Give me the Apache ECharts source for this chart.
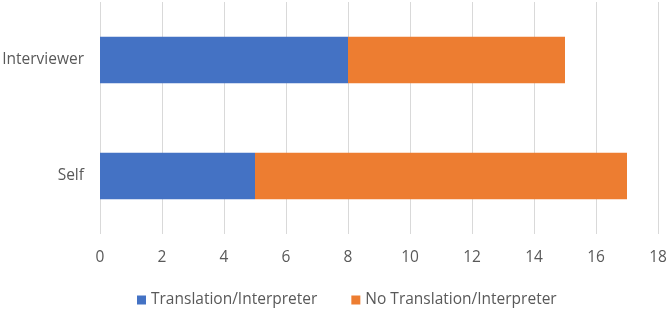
<!DOCTYPE html>
<html>
<head>
<meta charset="utf-8">
<script src="https://cdn.jsdelivr.net/npm/echarts@6/dist/echarts.min.js"></script>
<style>
html,body{margin:0;padding:0;background:#fff;}
#main{width:669px;height:309px;}
</style>
</head>
<body>
<div id="main"></div>
<script>
// categories bottom to top
var categories = ['Self', 'Interviewer'];
var translation = [5, 8];
var noTranslation = [12, 7];
var xTicks = [0, 18, 2]; // min, max, interval

var chart = echarts.init(document.getElementById('main'));

var option = {
    animation: false,
    textStyle: { fontFamily: 'Open Sans' },
    grid: { left: 100, right: 11, top: 2, bottom: 75, outerBoundsMode: 'none' },
    legend: {
        top: 287,
        left: 132,
        itemWidth: 9,
        itemHeight: 9,
        itemGap: 34,
        icon: 'rect',
        textStyle: { color: '#595959', fontSize: 15.5, fontFamily: 'Open Sans' },
        data: ['Translation/Interpreter', 'No Translation/Interpreter']
    },
    xAxis: {
        type: 'value',
        min: xTicks[0],
        max: xTicks[1],
        interval: xTicks[2],
        axisLine: { show: false },
        axisTick: { show: false },
        axisLabel: { color: '#595959', fontSize: 15.5, margin: 16 },
        splitLine: { lineStyle: { color: '#d9d9d9' } }
    },
    yAxis: {
        type: 'category',
        data: categories,
        axisLine: { show: false },
        axisTick: { show: false },
        axisLabel: { color: '#595959', fontSize: 15.5, margin: 16 }
    },
    series: [
        {
            name: 'Translation/Interpreter',
            type: 'bar',
            stack: 'a',
            barWidth: '40%',
            itemStyle: { color: '#4472C4' },
            data: translation
        },
        {
            name: 'No Translation/Interpreter',
            type: 'bar',
            stack: 'a',
            itemStyle: { color: '#ED7D31' },
            data: noTranslation
        }
    ]
};
chart.setOption(option);
</script>
</body>
</html>
